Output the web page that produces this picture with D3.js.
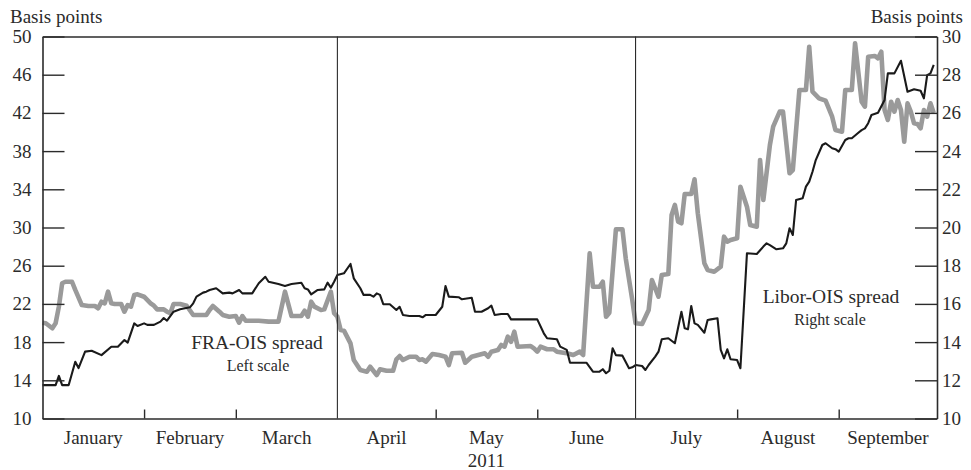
<!DOCTYPE html>
<html>
<head>
<meta charset="utf-8">
<script src="https://cdn.jsdelivr.net/npm/d3@7/dist/d3.min.js"></script>
<style>
  html, body { margin: 0; padding: 0; background: #fff; }
  svg { display: block; }
  text { font-family: "Liberation Serif", "Times New Roman", serif; fill: #2b2b2b; }
</style>
</head>
<body>
<svg id="chart" width="971" height="470"></svg>
<script>
// ---- Data ----
const months = ["January", "February", "March", "April", "May", "June", "July", "August", "September"];
const yearLabel = "2011";
const leftTicks = [10, 14, 18, 22, 26, 30, 34, 38, 42, 46, 50];
const rightTicks = [10, 12, 14, 16, 18, 20, 22, 24, 26, 28, 30];
const quarterLines = ["2011-04-01", "2011-07-01"];

// FRA-OIS spread, basis points, left scale (thick grey line)
const fraOis = [
  ["2011-01-01",20.03],["2011-01-02",19.97],["2011-01-04",19.45],["2011-01-05",19.97],["2011-01-06",21.71],
  ["2011-01-07",24.16],["2011-01-08",24.32],["2011-01-10",24.32],["2011-01-11",23.46],["2011-01-13",21.88],
  ["2011-01-15",21.78],["2011-01-17",21.78],["2011-01-18",21.54],["2011-01-19",22.23],["2011-01-20",22.06],
  ["2011-01-21",23.28],["2011-01-22",22.06],["2011-01-23",21.99],["2011-01-25",21.99],["2011-01-26",21.18],
  ["2011-01-27",21.88],["2011-01-28",21.71],["2011-01-29",22.93],["2011-01-30",23.0],["2011-02-01",22.75],
  ["2011-02-03",22.06],["2011-02-04",21.81],["2011-02-05",21.43],["2011-02-07",21.43],["2011-02-08",21.18],
  ["2011-02-09",21.02],["2011-02-10",21.99],["2011-02-12",21.99],["2011-02-14",21.81],["2011-02-16",20.84],
  ["2011-02-20",20.84],["2011-02-21",21.36],["2011-02-22",21.78],["2011-02-24",21.18],["2011-02-25",20.84],
  ["2011-02-27",20.66],["2011-03-01",20.73],["2011-03-02",20.03],["2011-03-03",20.73],["2011-03-04",20.24],
  ["2011-03-08",20.24],["2011-03-11",20.14],["2011-03-14",20.14],["2011-03-16",23.28],["2011-03-18",20.73],
  ["2011-03-21",20.73],["2011-03-22",21.29],["2011-03-23",20.66],["2011-03-24",22.23],["2011-03-25",21.71],
  ["2011-03-27",21.36],["2011-03-28",21.43],["2011-03-30",23.28],["2011-03-31",21.02],["2011-04-01",20.66],
  ["2011-04-02",19.27],["2011-04-03",19.2],["2011-04-05",17.87],["2011-04-06",16.13],["2011-04-08",15.08],
  ["2011-04-10",14.9],["2011-04-11",15.42],["2011-04-13",14.55],["2011-04-14",15.15],["2011-04-16",15.0],
  ["2011-04-18",15.0],["2011-04-19",16.2],["2011-04-20",16.54],["2011-04-21",16.13],["2011-04-23",16.47],
  ["2011-04-25",16.47],["2011-04-26",16.13],["2011-04-27",16.2],["2011-04-28",15.95],["2011-04-30",16.75],
  ["2011-05-02",16.65],["2011-05-04",16.47],["2011-05-05",15.6],["2011-05-06",16.83],["2011-05-09",16.89],
  ["2011-05-10",15.84],["2011-05-12",16.47],["2011-05-14",16.65],["2011-05-16",16.83],["2011-05-17",16.47],
  ["2011-05-18",17.0],["2011-05-20",17.17],["2011-05-21",17.7],["2011-05-22",17.52],["2011-05-23",18.57],
  ["2011-05-24",18.04],["2011-05-25",19.09],["2011-05-26",17.52],["2011-05-30",17.59],["2011-05-31",17.35],
  ["2011-06-01",17.0],["2011-06-02",17.52],["2011-06-04",17.25],["2011-06-06",17.25],["2011-06-07",17.0],
  ["2011-06-10",16.83],["2011-06-12",16.65],["2011-06-14",17.0],["2011-06-15",16.65],["2011-06-17",27.3],
  ["2011-06-18",23.8],["2011-06-20",23.8],["2011-06-21",24.32],["2011-06-22",20.66],["2011-06-23",21.08],
  ["2011-06-25",29.81],["2011-06-27",29.81],["2011-06-28",26.77],["2011-06-30",22.41],["2011-07-01",19.97],
  ["2011-07-03",19.9],["2011-07-05",21.36],["2011-07-06",24.5],["2011-07-08",22.75],["2011-07-09",25.03],
  ["2011-07-11",25.13],["2011-07-12",31.31],["2011-07-13",32.36],["2011-07-14",30.61],["2011-07-15",30.44],
  ["2011-07-16",33.51],["2011-07-18",33.51],["2011-07-19",35.05],["2011-07-20",31.49],["2011-07-22",26.25],
  ["2011-07-23",25.55],["2011-07-25",25.37],["2011-07-27",25.9],["2011-07-28",29.04],["2011-07-29",28.51],
  ["2011-07-30",28.69],["2011-08-01",28.87],["2011-08-02",34.27],["2011-08-04",32.18],["2011-08-05",30.26],
  ["2011-08-07",30.08],["2011-08-08",37.07],["2011-08-09",32.88],["2011-08-11",38.64],["2011-08-12",40.56],
  ["2011-08-14",42.13],["2011-08-15",42.13],["2011-08-17",35.68],["2011-08-18",36.02],["2011-08-20",44.4],
  ["2011-08-22",44.4],["2011-08-23",48.93],["2011-08-24",44.22],["2011-08-26",43.53],["2011-08-28",43.28],
  ["2011-08-30",41.6],["2011-08-31",40.21],["2011-09-02",40.03],["2011-09-03",44.4],["2011-09-05",44.4],
  ["2011-09-06",49.29],["2011-09-08",43.17],["2011-09-09",42.65],["2011-09-10",47.88],["2011-09-12",47.96],
  ["2011-09-13",47.72],["2011-09-14",48.41],["2011-09-15",42.3],["2011-09-16",41.26],["2011-09-17",43.17],
  ["2011-09-18",42.13],["2011-09-19",43.35],["2011-09-20",42.3],["2011-09-21",38.98],["2011-09-22",43.0],
  ["2011-09-23",42.13],["2011-09-24",40.91],["2011-09-25",40.84],["2011-09-26",40.39],["2011-09-27",42.3],
  ["2011-09-28",41.6],["2011-09-29",43.0],["2011-09-30",42.0]
];

// Libor-OIS spread, basis points, right scale (thin black line)
const liborOis = [
  ["2011-01-01",11.75],["2011-01-05",11.75],["2011-01-06",12.23],["2011-01-07",11.75],["2011-01-09",11.75],
  ["2011-01-11",12.97],["2011-01-12",12.64],["2011-01-14",13.5],["2011-01-16",13.55],["2011-01-19",13.32],
  ["2011-01-22",13.76],["2011-01-24",13.76],["2011-01-26",14.11],["2011-01-27",13.97],["2011-01-29",14.98],
  ["2011-01-30",14.84],["2011-02-01",14.98],["2011-02-02",14.9],["2011-02-04",14.9],["2011-02-06",15.07],
  ["2011-02-07",15.26],["2011-02-08",15.12],["2011-02-10",15.59],["2011-02-12",15.72],["2011-02-15",15.82],
  ["2011-02-16",16.03],["2011-02-17",16.38],["2011-02-19",16.59],["2011-02-20",16.64],["2011-02-21",16.73],
  ["2011-02-23",16.82],["2011-02-25",16.55],["2011-02-27",16.59],["2011-02-28",16.55],["2011-03-02",16.73],
  ["2011-03-03",16.55],["2011-03-06",16.55],["2011-03-08",17.08],["2011-03-10",17.42],["2011-03-11",17.16],
  ["2011-03-14",17.04],["2011-03-16",16.94],["2011-03-18",17.04],["2011-03-21",17.11],["2011-03-22",16.82],
  ["2011-03-23",16.76],["2011-03-24",16.5],["2011-03-26",16.73],["2011-03-28",16.76],["2011-03-29",17.11],
  ["2011-03-30",16.85],["2011-03-31",17.16],["2011-04-01",17.51],["2011-04-03",17.6],["2011-04-05",18.09],
  ["2011-04-06",17.34],["2011-04-08",16.82],["2011-04-09",16.47],["2011-04-11",16.47],["2011-04-12",16.38],
  ["2011-04-13",16.55],["2011-04-14",16.47],["2011-04-15",15.99],["2011-04-17",15.98],["2011-04-19",15.68],
  ["2011-04-20",15.85],["2011-04-21",15.42],["2011-04-23",15.37],["2011-04-26",15.37],["2011-04-27",15.3],
  ["2011-04-28",15.42],["2011-05-01",15.42],["2011-05-03",15.85],["2011-05-04",16.94],["2011-05-05",16.38],
  ["2011-05-08",16.35],["2011-05-09",16.24],["2011-05-12",16.32],["2011-05-13",15.59],["2011-05-15",15.59],
  ["2011-05-17",15.77],["2011-05-18",15.91],["2011-05-19",15.42],["2011-05-21",15.47],["2011-05-23",15.47],
  ["2011-05-24",15.19],["2011-06-01",15.19],["2011-06-03",14.46],["2011-06-04",14.2],["2011-06-07",14.15],
  ["2011-06-08",13.76],["2011-06-10",13.59],["2011-06-11",12.92],["2011-06-16",12.92],["2011-06-18",12.45],
  ["2011-06-20",12.45],["2011-06-21",12.58],["2011-06-22",12.37],["2011-06-23",12.5],["2011-06-24",13.68],
  ["2011-06-25",13.32],["2011-06-27",13.29],["2011-06-29",12.63],["2011-06-30",12.68],["2011-07-01",12.8],
  ["2011-07-03",12.75],["2011-07-04",12.54],["2011-07-05",12.8],["2011-07-07",13.24],["2011-07-08",13.5],
  ["2011-07-09",14.15],["2011-07-11",14.2],["2011-07-13",13.94],["2011-07-15",15.59],["2011-07-16",14.72],
  ["2011-07-17",14.67],["2011-07-18",15.89],["2011-07-19",14.98],["2011-07-20",14.9],["2011-07-22",14.49],
  ["2011-07-23",15.16],["2011-07-24",15.19],["2011-07-26",15.25],["2011-07-27",13.59],["2011-07-28",13.15],
  ["2011-07-29",13.62],["2011-07-30",13.1],["2011-08-01",13.06],["2011-08-02",12.63],["2011-08-04",18.65],
  ["2011-08-07",18.61],["2011-08-09",19.0],["2011-08-10",19.17],["2011-08-11",19.08],["2011-08-13",18.86],
  ["2011-08-15",18.91],["2011-08-16",19.17],["2011-08-17",19.96],["2011-08-18",19.61],["2011-08-19",21.44],
  ["2011-08-21",21.53],["2011-08-22",22.14],["2011-08-23",22.4],["2011-08-24",22.92],["2011-08-25",23.53],
  ["2011-08-27",24.32],["2011-08-28",24.41],["2011-08-30",24.15],["2011-08-31",24.1],["2011-09-01",23.97],
  ["2011-09-03",24.58],["2011-09-04",24.67],["2011-09-05",24.67],["2011-09-07",24.96],["2011-09-08",25.1],
  ["2011-09-09",25.19],["2011-09-10",25.46],["2011-09-11",25.89],["2011-09-13",26.01],["2011-09-15",26.68],
  ["2011-09-16",28.07],["2011-09-18",28.07],["2011-09-20",28.73],["2011-09-22",27.11],["2011-09-24",27.24],
  ["2011-09-26",27.16],["2011-09-27",26.76],["2011-09-28",27.98],["2011-09-29",28.07],["2011-09-30",28.51]
];

// ---- Chart ----
const W = 971, H = 470;
const plot = { left: 42.5, right: 937, top: 36.5, bottom: 418.5 };
const parse = d3.timeParse("%Y-%m-%d");
const svg = d3.select("#chart");

const x = d3.scaleTime()
  .domain([new Date(2011, 0, 1), new Date(2011, 9, 1)])
  .range([plot.left, plot.right]);
const yL = d3.scaleLinear().domain([10, 50]).range([plot.bottom, plot.top]);
const yR = d3.scaleLinear().domain([10, 30]).range([plot.bottom, plot.top]);

const axisColor = "#2b2b2b";

// Series
const lineL = d3.line().x(d => x(parse(d[0]))).y(d => yL(d[1]));
const lineR = d3.line().x(d => x(parse(d[0]))).y(d => yR(d[1]));

svg.append("path").datum(fraOis)
  .attr("d", lineL).attr("fill", "none")
  .attr("stroke", "#9a9a9a").attr("stroke-width", 4.6)
  .attr("stroke-linejoin", "round").attr("stroke-linecap", "butt");

svg.append("path").datum(liborOis)
  .attr("d", lineR).attr("fill", "none")
  .attr("stroke", "#1a1a1a").attr("stroke-width", 2.1)
  .attr("stroke-linejoin", "round");

// Quarter divider lines
svg.selectAll("line.qline").data(quarterLines).join("line")
  .attr("class", "qline")
  .attr("x1", d => x(parse(d))).attr("x2", d => x(parse(d)))
  .attr("y1", plot.top).attr("y2", plot.bottom)
  .attr("stroke", axisColor).attr("stroke-width", 1.1);

// Left axis
const gL = svg.append("g").attr("transform", `translate(${plot.left},0)`)
  .call(d3.axisLeft(yL).tickValues(leftTicks).tickSize(-22).tickSizeOuter(0).tickPadding(11));
// Right axis
const gR = svg.append("g").attr("transform", `translate(${plot.right},0)`)
  .call(d3.axisRight(yR).tickValues(rightTicks).tickSize(-22).tickSizeOuter(0).tickPadding(5));
// Bottom axis (month boundaries)
const monthStarts = d3.timeMonth.range(new Date(2011, 1, 1), new Date(2011, 9, 1))
  .filter(d => !quarterLines.some(q => +parse(q) === +d));
const gB = svg.append("g").attr("transform", `translate(0,${plot.bottom})`)
  .call(d3.axisBottom(x).tickValues(monthStarts).tickSize(-9).tickSizeOuter(0).tickFormat(""));
// Top frame
const gT = svg.append("g").attr("transform", `translate(0,${plot.top})`)
  .call(d3.axisTop(x).tickValues([]).tickSizeOuter(0));

[gL, gR, gB, gT].forEach(g => {
  g.select(".domain").attr("stroke", axisColor).attr("stroke-width", 1.6);
  g.selectAll(".tick line").attr("stroke", axisColor).attr("stroke-width", 1.4);
  g.selectAll(".tick text").attr("font-family", "Liberation Serif, serif")
    .attr("font-size", 19).attr("fill", "#2b2b2b");
});

// Month labels (centered in each month)
const monthMid = months.map((m, i) => {
  const a = new Date(2011, i, 1), b = new Date(2011, i + 1, 1);
  return { name: m, date: new Date((+a + +b) / 2) };
});
svg.selectAll("text.month").data(monthMid).join("text")
  .attr("class", "month")
  .attr("x", d => x(d.date)).attr("y", 444)
  .attr("text-anchor", "middle").attr("font-size", 19)
  .text(d => d.name);

svg.append("text")
  .attr("x", x(monthMid[4].date)).attr("y", 467)
  .attr("text-anchor", "middle").attr("font-size", 19)
  .text(yearLabel);

// Unit labels
svg.append("text").attr("x", 10).attr("y", 23).attr("font-size", 19).text("Basis points");
svg.append("text").attr("x", 963).attr("y", 23).attr("text-anchor", "end").attr("font-size", 19).text("Basis points");

// Series annotations
svg.append("text").attr("x", 257).attr("y", 349).attr("text-anchor", "middle").attr("font-size", 19.5).text("FRA-OIS spread");
svg.append("text").attr("x", 258).attr("y", 371).attr("text-anchor", "middle").attr("font-size", 16).text("Left scale");
svg.append("text").attr("x", 831).attr("y", 303).attr("text-anchor", "middle").attr("font-size", 19.5).text("Libor-OIS spread");
svg.append("text").attr("x", 830).attr("y", 325).attr("text-anchor", "middle").attr("font-size", 16).text("Right scale");
</script>
</body>
</html>
